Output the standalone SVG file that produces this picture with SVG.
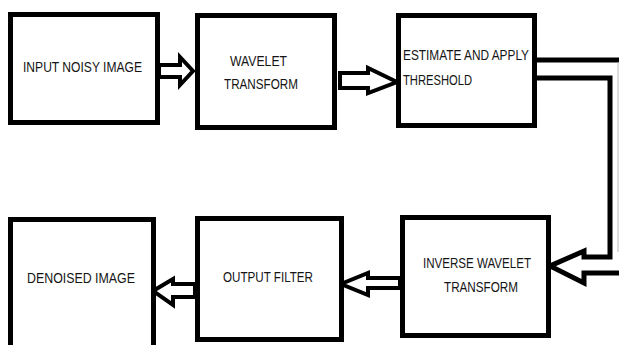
<svg xmlns="http://www.w3.org/2000/svg" width="619" height="345" viewBox="0 0 619 345">
<style>
.box{fill:#fff;stroke:#000;stroke-width:5}
.lbl{font-family:"Liberation Sans",Arial,sans-serif;font-size:15px;fill:#151515}
.arr{fill:#fff;stroke:#000;stroke-width:4;stroke-linejoin:miter}
.line{fill:none;stroke:#000;stroke-width:5}
</style>
<rect width="619" height="345" fill="#fff"/>
<g id="connectors">
<polygon class="arr" points="159,65 180,65 180,57 193,71 180,85 180,77 159,77"/>
<polygon class="arr" points="340,73 368,73 368,68 397,82 368,93 368,88 340,88"/>
<path class="line" d="M537,60 H625"/>
<path class="line" d="M537,78 H610 V257 H584 V251 L550,266 L584,283 V273 H625"/>
<line x1="618" y1="62" x2="618" y2="252" stroke="#bbb" stroke-width="1"/>
<polygon class="arr" points="400,278 368,278 368,273 341,284 368,295 368,288 400,288"/>
<polygon class="arr" points="195,284 173,284 173,279 153,291 173,305 173,297 195,297"/>
</g>
<g id="input">
<rect class="box" x="10.5" y="14.5" width="147" height="108"/>
<text class="lbl" x="23" y="72" textLength="119" lengthAdjust="spacingAndGlyphs">INPUT NOISY IMAGE</text>
</g>
<g id="wavelet">
<rect class="box" x="197.5" y="15.5" width="137" height="112"/>
<text class="lbl" x="230" y="66" textLength="57" lengthAdjust="spacingAndGlyphs">WAVELET</text>
<text class="lbl" x="224" y="89" textLength="74" lengthAdjust="spacingAndGlyphs">TRANSFORM</text>
</g>
<g id="threshold">
<rect class="box" x="398.5" y="15.5" width="136" height="110"/>
<text class="lbl" x="403" y="60" textLength="126" lengthAdjust="spacingAndGlyphs">ESTIMATE AND APPLY</text>
<text class="lbl" x="403" y="85" textLength="69" lengthAdjust="spacingAndGlyphs">THRESHOLD</text>
</g>
<g id="inverse">
<rect class="box" x="402.5" y="217.5" width="146" height="118"/>
<text class="lbl" x="423" y="268" textLength="108" lengthAdjust="spacingAndGlyphs">INVERSE WAVELET</text>
<text class="lbl" x="444" y="292" textLength="74" lengthAdjust="spacingAndGlyphs">TRANSFORM</text>
</g>
<g id="filter">
<rect class="box" x="197.5" y="218.5" width="144" height="121"/>
<text class="lbl" x="223" y="282" textLength="90" lengthAdjust="spacingAndGlyphs">OUTPUT FILTER</text>
</g>
<g id="denoised">
<rect class="box" x="10.5" y="219.5" width="143" height="130"/>
<text class="lbl" x="27" y="283" textLength="108" lengthAdjust="spacingAndGlyphs">DENOISED IMAGE</text>
</g>
</svg>
